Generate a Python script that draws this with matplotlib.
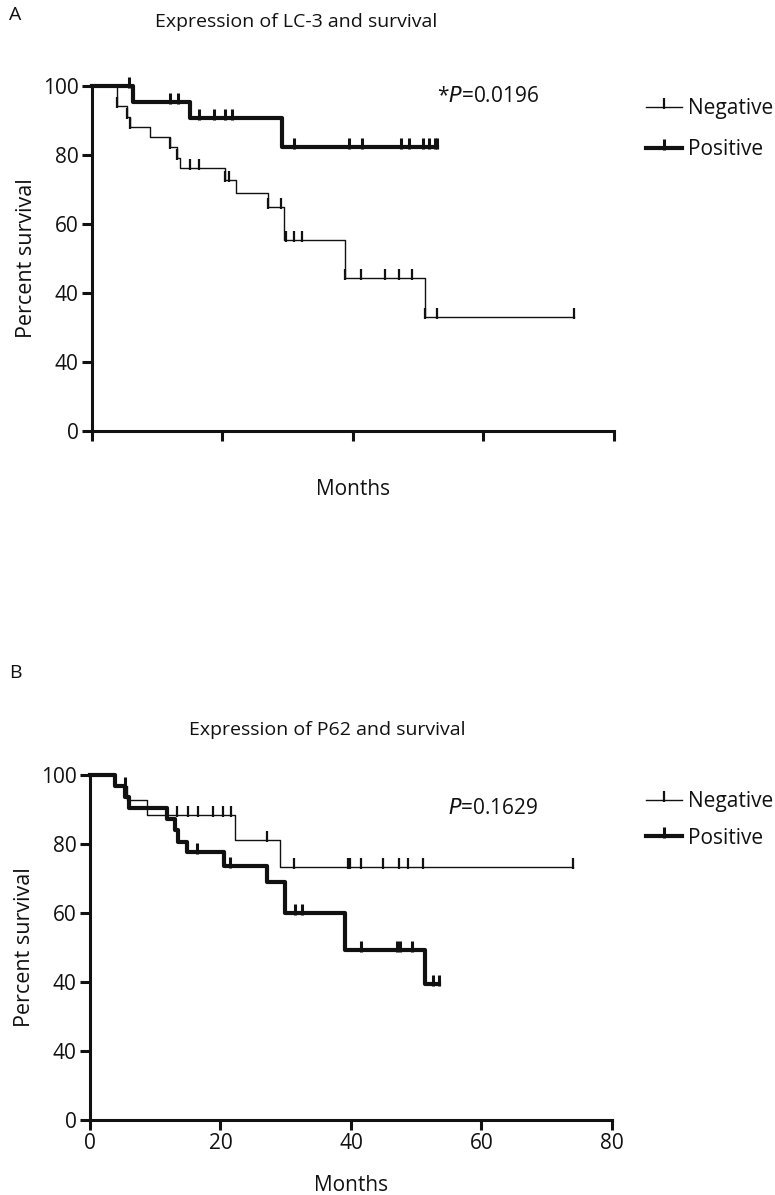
import matplotlib
matplotlib.use("Agg")
import matplotlib.pyplot as plt
from matplotlib.lines import Line2D
from matplotlib.path import Path

plt.rcParams["font.family"] = ["Open Sans", "DejaVu Sans"]

# Panel A: LC-3 (Kaplan-Meier steps)
a_neg_t = [0, 3.9, 5.4, 5.85, 8.9, 11.95, 13.1, 13.5, 20.4, 22.1, 27.0, 29.5, 38.8, 51.0, 73.8]
a_neg_s = [100, 94.2, 91.1, 88.2, 85.3, 82.4, 79.0, 76.2, 72.8, 68.9, 65.0, 55.4, 44.3, 33.1, 33.1]
a_neg_ct = [3.9, 5.4, 5.85, 11.95, 13.1, 15.0, 16.4, 20.4, 21.1, 27.0, 29.0, 29.8, 31.0, 32.2,
            38.8, 41.2, 44.9, 47.0, 49.0, 51.0, 52.9, 73.8]
a_neg_cs = [94.2, 91.1, 88.2, 82.4, 79.0, 76.2, 76.2, 72.8, 72.8, 65.0, 65.0, 55.4, 55.4, 55.4,
            44.3, 44.3, 44.3, 44.3, 44.3, 33.1, 33.1, 33.1]
a_pos_t = [0, 6.35, 15.0, 29.2, 52.9]
a_pos_s = [100, 95.5, 90.6, 82.4, 82.4]
a_pos_ct = [5.74, 12.0, 13.2, 16.4, 18.8, 20.4, 21.5, 31.0, 39.4, 41.4, 47.3, 48.6, 50.8, 51.7, 52.6, 52.9]
a_pos_cs = [100, 95.5, 95.5, 90.6, 90.6, 90.6, 90.6, 82.4, 82.4, 82.4, 82.4, 82.4, 82.4, 82.4, 82.4, 82.4]

# Panel B: P62
b_neg_t = [0, 3.8, 5.6, 8.7, 22.2, 29.2, 74.0]
b_neg_s = [100, 96.9, 92.8, 88.5, 81.2, 73.2, 73.2]
b_neg_ct = [13.3, 15.0, 16.5, 18.9, 20.4, 21.6, 27.2, 31.2, 39.5, 39.8, 41.5, 44.9, 47.3, 48.7, 51.0, 74.0]
b_neg_cs = [88.5, 88.5, 88.5, 88.5, 88.5, 88.5, 81.2, 73.2, 73.2, 73.2, 73.2, 73.2, 73.2, 73.2, 73.2, 73.2]
b_pos_t = [0, 3.8, 5.4, 6.0, 11.8, 13.0, 13.5, 14.8, 20.5, 27.2, 29.9, 39.1, 51.4, 53.5]
b_pos_s = [100, 96.7, 93.6, 90.3, 87.1, 84.0, 80.7, 77.6, 73.7, 69.1, 60.1, 49.3, 39.3, 39.3]
b_pos_ct = [5.4, 16.4, 21.5, 31.4, 32.5, 41.6, 47.1, 47.5, 49.4, 52.5, 53.5]
b_pos_cs = [96.7, 77.6, 73.7, 60.1, 60.1, 49.3, 49.3, 49.3, 49.3, 39.3, 39.3]

y_ticks = [0, 20, 40, 60, 80, 100]
y_labels = ["0", "40", "40", "60", "80", "100"]
x_ticks = [0, 20, 40, 60, 80]

INK = "#111111"
tick_mark = Path([(0, -0.2), (0, 1.0)], [Path.MOVETO, Path.LINETO])

fig = plt.figure(figsize=(7.75, 11.95), dpi=100)


def km_panel(rect, neg, pos, xlabels):
    ax = fig.add_axes(rect)
    (nt, ns, nct, ncs), (pt, ps, pct, pcs) = neg, pos
    ax.step(nt, ns, where="post", color=INK, lw=1.0, clip_on=False)
    ax.plot(nct, ncs, ls="none", marker=tick_mark, ms=13, mew=1.6, color=INK, clip_on=False)
    ax.step(pt, ps, where="post", color=INK, lw=3.0, clip_on=False)
    ax.plot(pct, pcs, ls="none", marker=tick_mark, ms=13, mew=2.2, color=INK, clip_on=False)
    ax.set_xlim(0, 80)
    ax.set_ylim(0, 100)
    for s in ("top", "right"):
        ax.spines[s].set_visible(False)
    for s in ("left", "bottom"):
        ax.spines[s].set_linewidth(2.2)
        ax.spines[s].set_color(INK)
    ax.set_yticks(y_ticks)
    ax.set_yticklabels(y_labels)
    ax.set_xticks(x_ticks)
    if xlabels:
        ax.set_xticklabels([str(v) for v in x_ticks])
    else:
        ax.set_xticklabels([])
    ax.tick_params(axis="both", direction="out", length=7.5, width=2.2, color=INK,
                   labelsize=15, labelcolor=INK, pad=2)
    ax.set_ylabel("Percent survival", fontsize=15.5, color=INK, labelpad=4)
    ax.patch.set_visible(False)
    return ax


ax_a = km_panel([0.1183, 0.6393, 0.674, 0.2887],
                (a_neg_t, a_neg_s, a_neg_ct, a_neg_cs),
                (a_pos_t, a_pos_s, a_pos_ct, a_pos_cs), False)
ax_b = km_panel([0.1161, 0.0628, 0.6735, 0.2887],
                (b_neg_t, b_neg_s, b_neg_ct, b_neg_cs),
                (b_pos_t, b_pos_s, b_pos_ct, b_pos_cs), True)

ax_a.set_xlabel("Months", fontsize=15, color=INK, labelpad=25)
ax_b.set_xlabel("Months", fontsize=15, color=INK, labelpad=15)

# panel letters and titles
fig.text(0.012, 1 - 15 / 1195, "A", fontsize=14, color=INK, va="center", ha="left")
fig.text(0.012, 1 - 673 / 1195, "B", fontsize=14, color=INK, va="center", ha="left")
fig.text(296 / 775, 1 - 22 / 1195, "Expression of LC-3 and survival", fontsize=14,
         color=INK, va="center", ha="center")
fig.text(327 / 775, 1 - 730 / 1195, "Expression of P62 and survival", fontsize=14,
         color=INK, va="center", ha="center")

fig.text(437 / 775, 1 - 97 / 1195, r"*$\mathit{P}$=0.0196", fontsize=15, color=INK,
         va="center", ha="left")
fig.text(448 / 775, 1 - 808 / 1195, r"$\mathit{P}$=0.1629", fontsize=15, color=INK,
         va="center", ha="left")

handles = [
    Line2D([], [], color=INK, lw=1.0, marker=tick_mark, ms=13, mew=1.6),
    Line2D([], [], color=INK, lw=3.0, marker=tick_mark, ms=13, mew=2.2),
]
for ax, top, gap in ((ax_a, 98, 0.95), (ax_b, 791, 0.75)):
    ax.legend(handles, ["Negative", "Positive"], loc="upper left",
              bbox_to_anchor=(646 / 775, 1 - top / 1195), bbox_transform=fig.transFigure,
              frameon=False, fontsize=15, handlelength=1.75, handletextpad=0.25,
              labelspacing=gap, borderpad=0, borderaxespad=0, numpoints=1,
              labelcolor=INK)

fig.savefig("out.png", dpi=100)
